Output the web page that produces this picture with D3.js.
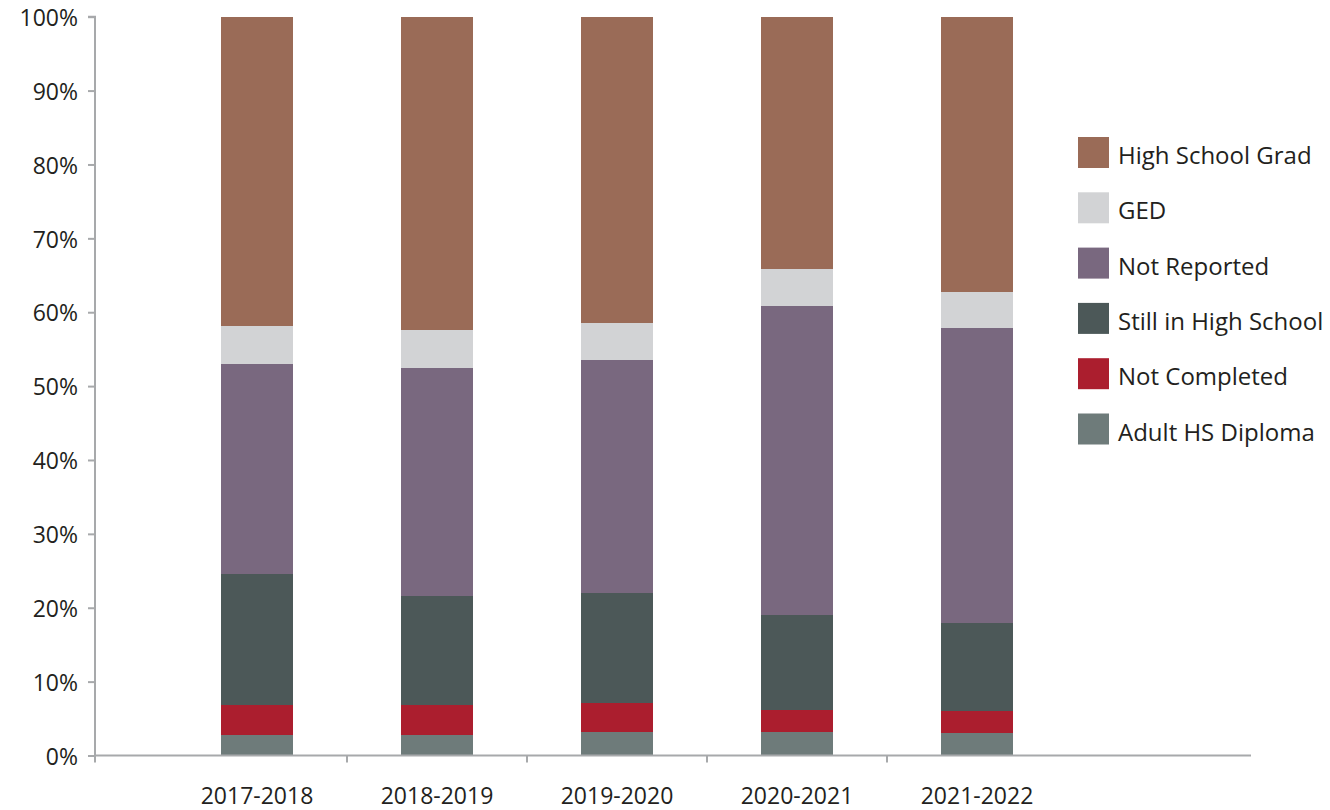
<!DOCTYPE html>
<html>
<head>
<meta charset="utf-8">
<script src="https://cdn.jsdelivr.net/npm/d3@7"></script>
<style>
  html, body { margin: 0; padding: 0; background: #ffffff; }
  svg { display: block; font-family: "Open Sans", "Noto Sans", sans-serif; }
</style>
</head>
<body>
<svg id="chart" width="1330" height="810"></svg>
<script>
// ---- data ----
const categories = ["2017-2018", "2018-2019", "2019-2020", "2020-2021", "2021-2022"];
const seriesNames = ["Adult HS Diploma", "Not Completed", "Still in High School", "Not Reported", "GED", "High School Grad"];
const adultHSDiploma   = [2.8, 2.8, 3.2, 3.2, 3.1];
const notCompleted     = [4.0, 4.0, 3.9, 3.0, 2.9];
const stillInHighSchool = [17.7, 14.8, 14.9, 12.8, 11.9];
const notReported      = [28.5, 30.9, 31.5, 41.8, 40.0];
const ged              = [5.2, 5.1, 5.0, 5.0, 4.8];
const highSchoolGrad   = [41.8, 42.4, 41.5, 34.2, 37.3];
const yTickValues = [0, 10, 20, 30, 40, 50, 60, 70, 80, 90, 100];
const legendOrder = ["High School Grad", "GED", "Not Reported", "Still in High School", "Not Completed", "Adult HS Diploma"];

const colors = {
  "High School Grad": "#9a6b57",
  "GED": "#d2d3d5",
  "Not Reported": "#79687f",
  "Still in High School": "#4c5858",
  "Not Completed": "#ab1e2e",
  "Adult HS Diploma": "#6e7b7a"
};

const seriesValues = [adultHSDiploma, notCompleted, stillInHighSchool, notReported, ged, highSchoolGrad];
const table = categories.map((c, i) => {
  const row = { category: c };
  seriesNames.forEach((s, k) => row[s] = seriesValues[k][i]);
  return row;
});

// ---- layout ----
const svg = d3.select("#chart");
const fontFamily = '"Open Sans", "Noto Sans", sans-serif';
const axisColor = "#a7a9ab";
const textColor = "#231f20";
const axisLeft = 95, axisRight = 1251;
const plotTop = 16.7, plotBottom = 755.5;

const x = d3.scaleBand().domain(categories).range([167, 1067]).paddingInner(0.6).paddingOuter(0.3);
const y = d3.scaleLinear().domain([0, 100]).range([plotBottom, plotTop]);

const stacked = d3.stack().keys(seriesNames)(table);

// bars
const g = svg.append("g");
g.selectAll("g.series").data(stacked).join("g")
  .attr("class", "series")
  .attr("fill", d => colors[d.key])
  .selectAll("rect").data(d => d).join("rect")
  .attr("x", d => x(d.data.category))
  .attr("width", x.bandwidth())
  .attr("y", d => y(d[1]))
  .attr("height", d => y(d[0]) - y(d[1]))
  .attr("shape-rendering", "crispEdges");

// y axis
const yAxis = d3.axisLeft(y).tickValues(yTickValues).tickFormat(d => d + "%").tickSize(7).tickPadding(10);
const yg = svg.append("g").attr("transform", `translate(${axisLeft},0)`).call(yAxis)
  .attr("font-family", fontFamily).attr("font-size", 23);
yg.select(".domain").attr("stroke", axisColor).attr("stroke-width", 2)
  .attr("d", `M-7,${plotTop}H0V${plotBottom}`);
yg.selectAll(".tick line").attr("stroke", axisColor).attr("stroke-width", 2);
yg.selectAll(".tick text").attr("fill", textColor).attr("dy", "0.38em");

// x axis
const xAxis = d3.axisBottom(x).tickSize(0).tickPadding(32);
const xg = svg.append("g").attr("transform", `translate(0,${plotBottom})`).call(xAxis)
  .attr("font-family", fontFamily).attr("font-size", 23);
xg.select(".domain").attr("stroke", axisColor).attr("stroke-width", 2)
  .attr("d", `M${axisLeft},0H${axisRight}`);
xg.selectAll(".tick text").attr("fill", textColor);
// category separator ticks at band boundaries
const step = x.step();
const boundaries = [axisLeft].concat(categories.slice(1).map(c => x(c) - step * x.paddingInner() / 2));
xg.selectAll("line.sep").data(boundaries).join("line")
  .attr("class", "sep")
  .attr("x1", d => d).attr("x2", d => d)
  .attr("y1", 0).attr("y2", 7)
  .attr("stroke", axisColor).attr("stroke-width", 2);

// legend
const legend = svg.append("g").attr("transform", "translate(1078,137)")
  .attr("font-family", fontFamily).attr("font-size", 24);
const items = legend.selectAll("g").data(legendOrder).join("g")
  .attr("transform", (d, i) => `translate(0,${i * 55.3})`);
items.append("rect").attr("width", 31).attr("height", 31).attr("fill", d => colors[d]);
items.append("text").attr("x", 40).attr("y", 27)
  .attr("fill", textColor).text(d => d);
</script>
</body>
</html>
